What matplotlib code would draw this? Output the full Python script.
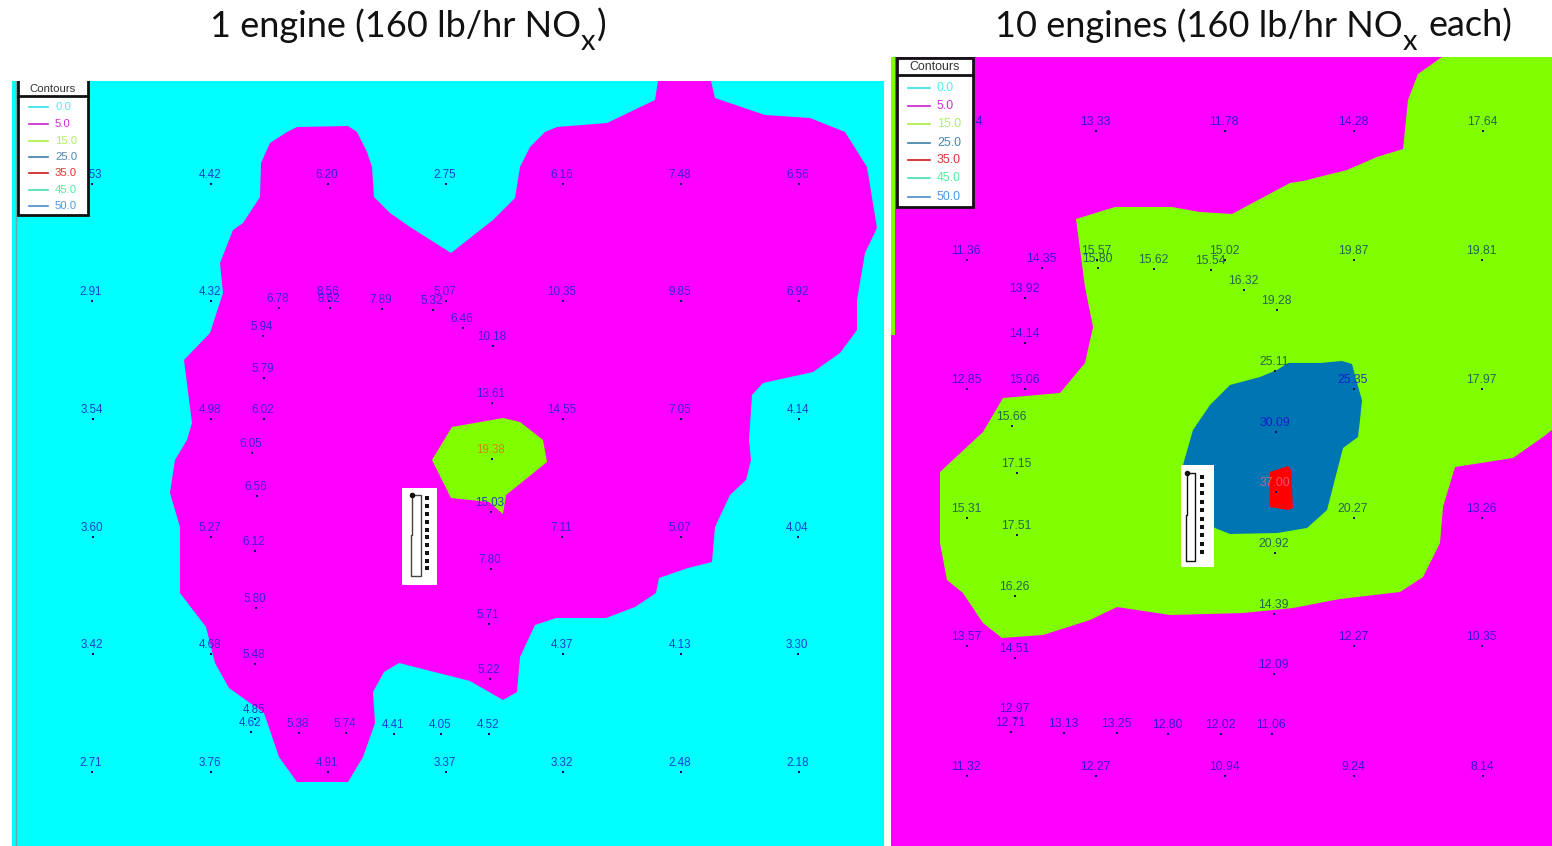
import matplotlib
matplotlib.use('Agg')
import matplotlib.pyplot as plt
from matplotlib.patches import Polygon, Rectangle

plt.rcParams['font.family'] = ['Lato', 'DejaVu Sans']

CYAN = '#00ffff'
MAGENTA = '#ff00ff'
GREEN = '#80ff00'
BLUE = '#0075b4'
RED = '#ff0000'

levels = ['0.0', '5.0', '15.0', '25.0', '35.0', '45.0', '50.0']
line_cols = ['#30e0e8', '#c820c8', '#a8f040', '#3c7fa8', '#d01818', '#40e0b8', '#4a8cc8']
text_cols = ['#50eef5', '#d030d8', '#b0f060', '#4a86b0', '#e03030', '#50eea0', '#4c98e8']

# 1 engine: receptors
left_vals = ['2.53', '4.42', '6.20', '2.75', '6.16', '7.48', '6.56',
             '2.91', '4.32', '6.78', '8.56', '8.62', '7.89', '5.07', '5.32', '6.46', '10.35', '9.85', '6.92',
             '5.94', '10.18', '5.79', '13.61',
             '3.54', '4.98', '6.02', '14.55', '7.05', '4.14',
             '6.05', '19.38', '6.56', '15.03',
             '3.60', '5.27', '7.11', '5.07', '4.04', '6.12', '7.80', '5.80', '5.71',
             '3.42', '4.68', '4.37', '4.13', '3.30', '5.48', '5.22',
             '4.85', '4.62', '5.38', '5.74', '4.41', '4.05', '4.52',
             '2.71', '3.76', '4.91', '3.37', '3.32', '2.48', '2.18']
left_x = [91, 210, 327, 445, 562, 680, 798,
          91, 210, 278, 328, 329, 381, 445, 432, 462, 562, 680, 798,
          262, 492, 263, 491,
          92, 210, 263, 562, 680, 798,
          251, 491, 256, 490,
          92, 210, 561, 680, 797, 254, 490, 255, 488,
          92, 210, 562, 680, 797, 254, 489,
          254, 250, 298, 345, 393, 440, 488,
          91, 210, 327, 445, 562, 680, 798]
left_y = [174, 174, 174, 174, 174, 174, 174,
          291, 291, 298, 291, 298, 299, 291, 300, 318, 291, 291, 291,
          326, 336, 368, 393,
          409, 409, 409, 409, 409, 409,
          443, 449, 486, 502,
          527, 527, 527, 527, 527, 541, 559, 598, 614,
          644, 644, 644, 644, 644, 654, 669,
          709, 722, 723, 723, 724, 724, 724,
          762, 762, 762, 762, 762, 762, 762]

# 10 engines: receptors
right_vals = ['13.14', '13.33', '11.78', '14.28', '17.64',
              '11.36', '14.35', '15.57', '15.80', '15.62', '15.54', '15.02', '16.32', '19.87', '19.81',
              '13.92', '19.28', '14.14', '25.11',
              '12.85', '15.06', '25.35', '17.97', '15.66', '30.09', '17.15', '37.00',
              '15.31', '17.51', '20.27', '13.26', '20.92', '16.26', '14.39',
              '13.57', '14.51', '12.27', '10.35', '12.09',
              '12.97', '12.71', '13.13', '13.25', '12.80', '12.02', '11.06',
              '11.32', '12.27', '10.94', '9.24', '8.14']
right_x = [967, 1095, 1224, 1353, 1482,
           966, 1041, 1096, 1097, 1153, 1210, 1224, 1243, 1353, 1481,
           1024, 1276, 1024, 1274,
           966, 1024, 1353, 1481, 1011, 1275, 1016, 1275,
           966, 1016, 1353, 1481, 1274, 1014, 1273,
           966, 1014, 1353, 1481, 1273,
           1014, 1010, 1063, 1116, 1167, 1220, 1271,
           966, 1095, 1224, 1353, 1482]
right_y = [121, 121, 121, 121, 121,
           250, 258, 250, 258, 259, 260, 250, 280, 250, 250,
           288, 300, 333, 361,
           379, 379, 379, 379, 416, 422, 463, 482,
           508, 525, 508, 508, 543, 586, 604,
           636, 648, 636, 636, 664,
           708, 722, 723, 723, 724, 724, 724,
           766, 766, 766, 766, 766]

# contour outlines
left_15_x = [432, 452, 503, 520, 543, 547, 506, 503, 489, 451]
left_15_y = [460, 427, 418, 422, 440, 462, 495, 514, 502, 498]
left_5_x = [184, 192, 187, 175, 170, 180, 180, 206, 215, 229, 264, 279, 297, 348, 363, 375, 373, 384, 399, 470,
            503, 517, 520, 535, 556, 606, 635, 656, 659, 688, 712, 715, 730, 746, 751, 749, 752, 763, 813, 840,
            857, 857, 865, 877, 867, 845, 810, 765, 715, 711, 658, 655, 607, 557, 545, 530, 520, 515, 493, 451,
            410, 390, 374, 372, 367, 357, 348, 297, 287, 270, 261, 260, 243, 233, 220, 223, 210]
left_5_y = [360, 423, 440, 460, 493, 527, 593, 627, 663, 688, 713, 757, 782, 782, 757, 723, 692, 672, 663, 681,
            700, 692, 657, 625, 618, 618, 607, 593, 578, 568, 562, 527, 495, 480, 460, 440, 395, 383, 372, 353,
            330, 300, 253, 228, 167, 132, 118, 115, 98, 81, 81, 100, 123, 127, 132, 147, 167, 198, 220, 253,
            227, 213, 197, 167, 152, 132, 126, 127, 132, 143, 163, 197, 223, 230, 263, 293, 333]

right_15_x = [1076, 1115, 1172, 1200, 1232, 1290, 1303, 1347, 1377, 1403, 1405, 1408, 1418, 1442, 1552, 1552, 1543,
              1513, 1455, 1443, 1440, 1423, 1400, 1340, 1293, 1243, 1170, 1117, 1090, 1043, 1002, 983, 963, 947,
              940, 940, 983, 1003, 1060, 1085, 1093, 1085]
right_15_y = [219, 207, 207, 212, 214, 183, 181, 170, 157, 149, 130, 100, 74, 57, 57, 430, 437,
              458, 467, 507, 543, 577, 592, 599, 608, 613, 615, 607, 620, 635, 638, 623, 593, 580,
              543, 472, 432, 398, 393, 363, 327, 287]
right_25_x = [1183, 1193, 1210, 1230, 1260, 1277, 1288, 1320, 1342, 1352, 1357, 1362, 1360, 1358, 1343, 1327, 1307,
              1277, 1230, 1215, 1181]
right_25_y = [465, 430, 405, 385, 377, 370, 363, 363, 361, 364, 383, 400, 420, 437, 448, 510, 528,
              533, 534, 528, 500]
right_35_x = [1270, 1288, 1291, 1293, 1288, 1270]
right_35_y = [472, 466, 470, 508, 510, 507]

# source: stack dots and building outline
left_stack_y = [498, 506, 514, 522, 530, 537, 545, 553, 561, 568]
right_stack_y = [477, 485, 493, 502, 510, 519, 527, 535, 544, 552]


def draw_panel(rect, bg, xs, ys, vals, cols, size):
    ax = fig.add_axes([rect[0] / 1552, 1 - rect[3] / 846, (rect[2] - rect[0]) / 1552, (rect[3] - rect[1]) / 846])
    ax.set_xlim(rect[0], rect[2])
    ax.set_ylim(rect[3], rect[1])
    ax.set_facecolor(bg)
    ax.set_xticks([])
    ax.set_yticks([])
    for s in ax.spines.values():
        s.set_visible(False)
    for x, y, v, c in zip(xs, ys, vals, cols):
        ax.text(x, y + 1, v, color=c, fontsize=size, family='Liberation Sans', ha='center', va='center', zorder=6, alpha=0.85)
        ax.plot([x + 1], [y + 10], 's', color='#101060', ms=1.5, mew=0, zorder=6)
    return ax


def draw_legend(ax, x0, x1, y0, y1, head, rows, lx0, lx1, tx, size):
    ax.add_patch(Rectangle((x0, y0), x1 - x0, y1 - y0, fc='white', ec='#111111', lw=2, zorder=8))
    ax.plot([x0, x1], [head, head], color='#111111', lw=2, zorder=9)
    ax.text((x0 + x1) / 2, (max(y0, ax.get_ylim()[1]) + head) / 2 + 0.5, 'Contours', fontsize=size, family='Liberation Sans',
            color='#333333', ha='center', va='center', zorder=9)
    for i in range(len(levels)):
        ax.plot([lx0, lx1], [rows[i], rows[i]], color=line_cols[i], lw=1.2, zorder=9)
        ax.text(tx, rows[i], levels[i], color=text_cols[i], fontsize=size, family='Liberation Sans',
                va='center', zorder=9)


def draw_source(ax, box, top, bot, xl_top, xl_bot, xr, step, stack_x, stack_y, col):
    ax.add_patch(Rectangle((box[0], box[1]), box[2] - box[0], box[3] - box[1], fc='white', ec='none', zorder=4))
    ax.plot([xl_top, xr, xr, xl_bot, xl_bot, xl_top, xl_top], [top, top, bot, bot, step, step, top],
            color=col, lw=1, zorder=5)
    ax.plot([xl_top], [top], 'o', color='#111111', ms=3, zorder=5)
    ax.plot([stack_x] * len(stack_y), stack_y, 's', color='#111111', ms=2.5, mew=0, zorder=5)


def title_part(x, y, s, size, ha):
    fig.text(x / 1552, 1 - y / 846, s, fontsize=size, color='#111111', ha=ha, va='baseline')


fig = plt.figure(figsize=(15.52, 8.46), dpi=100, facecolor='white')

# left panel
left_cols = ['#1a20d0'] * len(left_vals)
left_cols[left_vals.index('19.38')] = '#e07010'
axl = draw_panel((12, 81, 884, 846), CYAN, left_x, left_y, left_vals, left_cols, 8.4)
axl.plot([15.5, 15.5], [81, 846], color='#70a8a8', lw=1, zorder=1)
axl.add_patch(Polygon(list(zip(left_5_x, left_5_y)), fc=MAGENTA, ec='none', zorder=2))
axl.add_patch(Polygon(list(zip(left_15_x, left_15_y)), fc=GREEN, ec='none', zorder=3))
draw_source(axl, (402, 488, 437, 585), 495, 576, 412, 411, 421, 535, 427, left_stack_y, '#444444')
draw_legend(axl, 18, 88, 78, 215, 96, [107, 124, 141, 157, 173, 190, 206], 29, 48, 55, 8.2)

# right panel
blue_text = ('30.09', '25.35', '15.06')
right_cols = ['#1a10d0' if (float(v) < 15 and v != '14.39') or v in blue_text else '#154a60' for v in right_vals]
right_cols[right_vals.index('37.00')] = '#f06080'
axr = draw_panel((891, 57, 1552, 846), MAGENTA, right_x, right_y, right_vals, right_cols, 8.7)
axr.add_patch(Rectangle((891, 57), 4, 278, fc=GREEN, ec='none', zorder=1))
axr.add_patch(Polygon(list(zip(right_15_x, right_15_y)), fc=GREEN, ec='none', zorder=2))
axr.add_patch(Polygon(list(zip(right_25_x, right_25_y)), fc=BLUE, ec='none', zorder=3))
axr.add_patch(Polygon(list(zip(right_35_x, right_35_y)), fc=RED, ec='none', zorder=3))
draw_source(axr, (1181, 465, 1214, 567), 473, 561, 1187, 1186, 1195, 515, 1202, right_stack_y, '#111111')
draw_legend(axr, 897, 973, 58, 207, 75, [88, 106, 124, 143, 160, 178, 197], 908, 930, 937, 8.9)

# titles, NOx subscript set as its own text so it sits low like the original
title_part(581, 37, '1 engine (160 lb/hr NO', 26, 'right')
title_part(581, 50, 'x', 21, 'left')
title_part(606, 37, ')', 26, 'right')
title_part(1403, 37, '10 engines (160 lb/hr NO', 26, 'right')
title_part(1403, 50, 'x', 21, 'left')
title_part(1512, 37, 'each)', 26, 'right')

fig.savefig('out.png', dpi=100)
